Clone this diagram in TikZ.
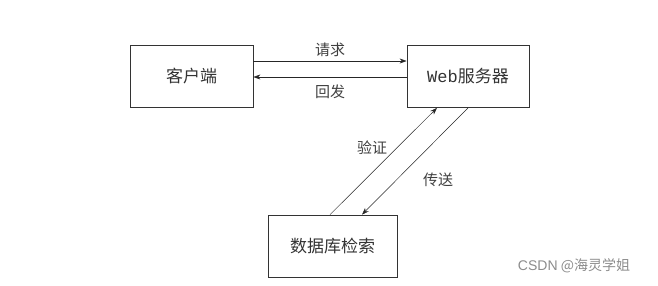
\documentclass[tikz,border=0pt]{standalone}
\usepackage{fontspec}
\setmainfont{Noto Sans CJK SC}
\newfontfamily\webmono{Liberation Mono}
\usetikzlibrary{arrows.meta}
\begin{document}
\begin{tikzpicture}[>={Stealth[length=7pt,width=5pt]}, x=1pt, y=-1pt,
	box/.style={draw=black!80, line width=0.8pt, rectangle, inner sep=0pt,
		minimum height=62pt, text=black!80, font=\fontsize{17}{17}\selectfont},
	link/.style={->, line width=0.5pt, black!85},
	lbl/.style={font=\fontsize{15}{15}\selectfont, black!75}]
	% Khung ảnh 658 x 285
	\useasboundingbox (0,0) rectangle (658,285);
	
	% 1. Các khối
	\node[box, minimum width=123pt] (client) at (191.5,76) {客户端};
	\node[box, minimum width=122pt] (web) at (468,76.5) {{\webmono Web}服务器};
	\node[box, minimum width=129pt] (db) at (332.5,246) {数据库检索};
	
	% 2. Yêu cầu / phản hồi
	\draw[link] ([yshift=15pt]client.east) -- ([yshift=15.5pt]web.west)
		node[lbl, midway, above=1pt] {请求};
	\draw[link] ([yshift=-0.5pt]web.west) -- ([yshift=-1pt]client.east)
		node[lbl, midway, below=4pt] {回发};
	
	% 3. Kiểm tra cơ sở dữ liệu
	\draw[link] ([xshift=-2.5pt]db.north) -- ([xshift=-31pt]web.south);
	\draw[link] ([xshift=0pt]web.south) -- ([xshift=29.5pt]db.north);
	\node[lbl] (verify) at (372,148) {验证};
	\node[lbl] (send) at (438,180) {传送};
	
	% Thủy ấn
	\node[font=\fontsize{14}{14}\selectfont, black!45] (mark) at (574,266) {{\fontspec{Liberation Sans}CSDN} @海灵学姐};
\end{tikzpicture}
\end{document}
